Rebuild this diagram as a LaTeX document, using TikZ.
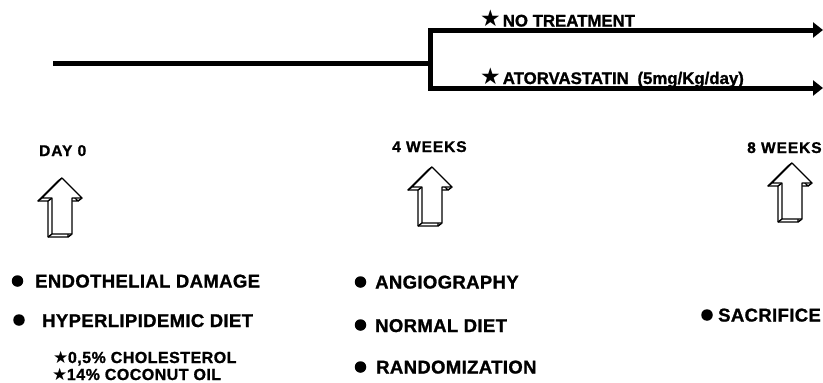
\documentclass[tikz,border=0pt]{standalone}
\usepackage{fontspec}
\setmainfont{Liberation Sans}[BoldFeatures={FakeBold=1.2}]
\newfontfamily\symfont{DejaVu Sans}
\newfontfamily\itemfont{Liberation Sans}[LetterSpace=2, BoldFeatures={FakeBold=1.2}]
\newfontfamily\subfont{Liberation Sans}[LetterSpace=3, BoldFeatures={FakeBold=1.2}]
\newfontfamily\timefont{Liberation Sans}[LetterSpace=6, BoldFeatures={FakeBold=1.2}]
\newcommand{\bigstar}{{\symfont\fontsize{23}{23}\selectfont ★}}
\newcommand{\smallstar}{{\symfont\fontsize{17}{17}\selectfont ★}}
\usetikzlibrary{arrows.meta}
\tikzset{
  flow/.style={line width=5pt, line cap=butt},
  flowarrow/.style={flow, -{Triangle[length=10pt,width=15pt]}},
  toplbl/.style={anchor=base west, inner sep=0pt, font=\fontsize{16.8}{18}\selectfont\bfseries},
  timelbl/.style={anchor=base west, inner sep=0pt, font=\timefont\fontsize{15.5}{17}\selectfont\bfseries},
  itemlbl/.style={anchor=base west, inner sep=0pt, font=\itemfont\fontsize{18.5}{20}\selectfont\bfseries},
  sublbl/.style={anchor=base west, inner sep=0pt, font=\subfont\fontsize{16}{17}\selectfont\bfseries},
  dot/.style={circle, fill=black, inner sep=0pt, minimum size=11.5pt},
  outline/.style={draw=black, fill=white, line width=1.4pt, line join=round},
  blockup/.pic={
    \path[outline, shift={(-4,3)}] (0,0) -- (20,20) -- (10,20) -- (10,56) -- (-10,56) -- (-10,20) -- (-20,20) -- cycle;
    \foreach \p in {(0,0),(20,20),(10,20),(10,56),(-10,56),(-10,20),(-20,20)}
      \draw[line width=1.4pt] \p -- ++(-4,3);
    \path[outline] (0,0) -- (20,20) -- (10,20) -- (10,56) -- (-10,56) -- (-10,20) -- (-20,20) -- cycle;
  }
}
\begin{document}
\begin{tikzpicture}[x=1pt,y=-1pt]
\useasboundingbox (0,0) rectangle (823,383);
% timeline
\coordinate (start) at (53,63);
\coordinate (j) at (430,63);
\coordinate (e1) at (823,30);
\coordinate (e2) at (823,88);
\draw[flow] (start) -- (j);
\draw[flowarrow] (j) |- (e1);
\draw[flowarrow] (j) |- (e2);
\node[toplbl] (notreat) at (480,26.5) {\bigstar\hspace{2pt}NO TREATMENT};
\node[toplbl] (atorva) at (480,84) {\bigstar\hspace{2pt}ATORVASTATIN\hspace{4pt} (5mg/Kg/day)};
% time points
\node[timelbl] (day0) at (39,156) {DAY 0};
\node[timelbl] (w4) at (392,152) {4 WEEKS};
\node[timelbl] (w8) at (747,153) {8 WEEKS};
\pic (a0) at (62,178) {blockup};
\pic (a4) at (432,167) {blockup};
\pic (a8) at (792,163) {blockup};
% day 0 items
\node[dot] (d1) at (17.5,281) {};
\node[itemlbl] (endo) at (35,287.5) {ENDOTHELIAL DAMAGE};
\node[dot] (d2) at (19,320) {};
\node[itemlbl] (hyper) at (42,327) {HYPERLIPIDEMIC DIET};
\node[sublbl] (chol) at (53,363) {\smallstar\hspace{-0.5pt}0,5\% CHOLESTEROL};
\node[sublbl] (coco) at (52,380) {\smallstar\hspace{-0.5pt}14\% COCONUT OIL};
% 4 weeks items
\node[dot] (d3) at (360.5,282) {};
\node[itemlbl] (angio) at (375,288.5) {ANGIOGRAPHY};
\node[dot] (d4) at (360.5,325) {};
\node[itemlbl] (normal) at (375,332) {NORMAL DIET};
\node[dot] (d5) at (360.5,367) {};
\node[itemlbl] (random) at (376,373.5) {RANDOMIZATION};
% 8 weeks
\node[dot] (d6) at (707,315) {};
\node[itemlbl] (sacr) at (718,321.5) {SACRIFICE};
\end{tikzpicture}
\end{document}
